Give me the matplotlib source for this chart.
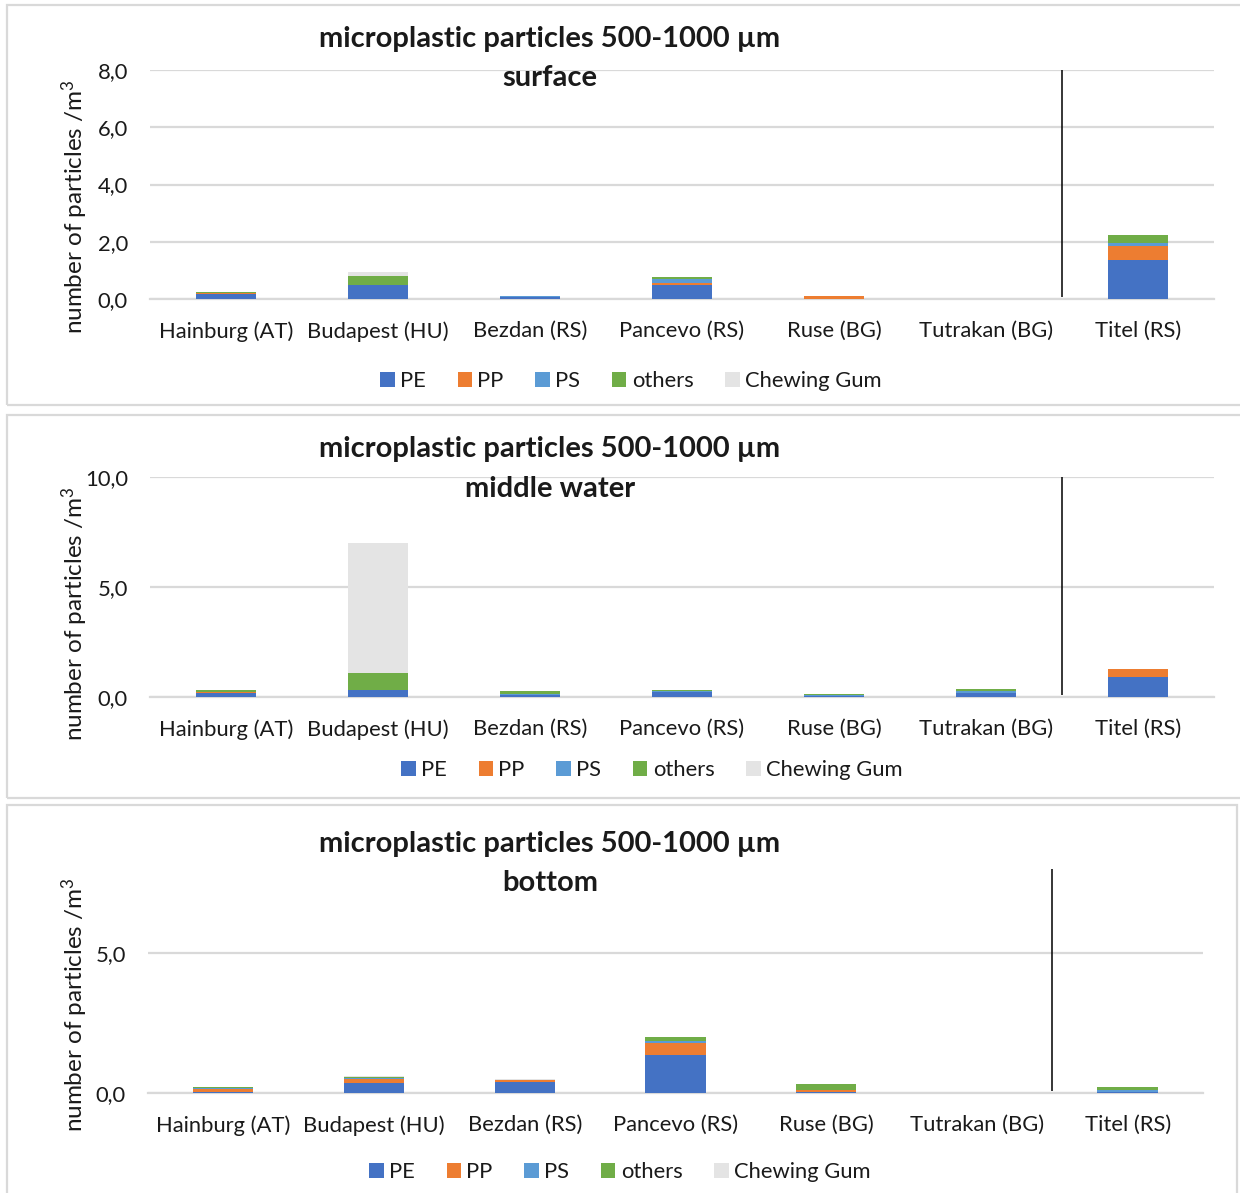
import matplotlib
matplotlib.use("Agg")
import matplotlib.pyplot as plt
from matplotlib.patches import Rectangle
import numpy as np

plt.rcParams['font.family'] = ['Lato', 'DejaVu Sans']
plt.rcParams['mathtext.fontset'] = 'custom'
plt.rcParams['mathtext.rm'] = 'Lato'
plt.rcParams['mathtext.it'] = 'Lato'

sites = ['Hainburg (AT)', 'Budapest (HU)', 'Bezdan (RS)', 'Pancevo (RS)',
         'Ruse (BG)', 'Tutrakan (BG)', 'Titel (RS)']
polymers = ['PE', 'PP', 'PS', 'others', 'Chewing Gum']
colors = ['#4472C4', '#ED7D31', '#5B9BD5', '#70AD47', '#E4E4E4']

# surface samples
surface_pe = [0.16, 0.50, 0.08, 0.50, 0.00, 0.00, 1.36]
surface_pp = [0.05, 0.00, 0.00, 0.06, 0.10, 0.00, 0.50]
surface_ps = [0.01, 0.00, 0.01, 0.13, 0.00, 0.00, 0.08]
surface_others = [0.04, 0.31, 0.00, 0.08, 0.00, 0.00, 0.31]
surface_gum = [0.00, 0.13, 0.00, 0.00, 0.00, 0.00, 0.00]

# middle water samples
middle_pe = [0.18, 0.32, 0.09, 0.21, 0.06, 0.20, 0.91]
middle_pp = [0.06, 0.00, 0.00, 0.03, 0.00, 0.00, 0.35]
middle_ps = [0.00, 0.00, 0.05, 0.03, 0.03, 0.07, 0.00]
middle_others = [0.06, 0.77, 0.12, 0.05, 0.05, 0.11, 0.00]
middle_gum = [0.00, 5.91, 0.00, 0.00, 0.00, 0.00, 0.00]

# bottom samples
bottom_pe = [0.02, 0.34, 0.38, 1.35, 0.05, 0.00, 0.02]
bottom_pp = [0.13, 0.16, 0.10, 0.45, 0.07, 0.00, 0.00]
bottom_ps = [0.02, 0.02, 0.00, 0.06, 0.00, 0.00, 0.08]
bottom_others = [0.06, 0.04, 0.00, 0.15, 0.19, 0.00, 0.10]
bottom_gum = [0.00, 0.05, 0.01, 0.00, 0.00, 0.00, 0.00]

W, H = 1240, 1193
fig = plt.figure(figsize=(W / 100, H / 100), dpi=100)

def fx(px):
    return px / W

def fy(py):
    return 1 - py / H

panels = [
    dict(series=[surface_pe, surface_pp, surface_ps, surface_others, surface_gum],
         sub='surface', box=(7, 5, 1250, 405), ax=(150, 70, 1214, 299),
         ylim=8, ticks=[0, 2, 4, 6, 8], t1=39, t2=78, leg=(631, 381), ylab=207),
    dict(series=[middle_pe, middle_pp, middle_ps, middle_others, middle_gum],
         sub='middle water', box=(7, 415, 1250, 798), ax=(150, 477, 1214, 697),
         ylim=10, ticks=[0, 5, 10], t1=449, t2=489, leg=(652, 770), ylab=614),
    dict(series=[bottom_pe, bottom_pp, bottom_ps, bottom_others, bottom_gum],
         sub='bottom', box=(7, 805, 1237, 1200), ax=(148, 869, 1203, 1093),
         ylim=8, ticks=[0, 5], t1=844, t2=883, leg=(620, 1172), ylab=1005),
]

grid_c = '#D9D9D9'
text_c = '#1A1A1A'
tick_fs = 15.8

for p in panels:
    bx0, by0, bx1, by1 = p['box']
    fig.patches.append(Rectangle((fx(bx0), fy(by1)), fx(bx1 - bx0), (by1 - by0) / H,
                                 transform=fig.transFigure, fill=False,
                                 edgecolor=grid_c, lw=1.6))
    ax0, ay0, ax1, ay1 = p['ax']
    ax = fig.add_axes([fx(ax0), fy(ay1), fx(ax1 - ax0), (ay1 - ay0) / H])
    x = np.arange(len(sites))
    bottom = np.zeros(len(sites))
    handles = []
    for vals, name, c in zip(p['series'], polymers, colors):
        vals = np.array(vals)
        h = ax.bar(x, vals, 0.4, bottom=bottom, color=c, label=name, zorder=3)
        handles.append(h)
        bottom += vals
    ax.set_xlim(-0.5, len(sites) - 0.5)
    ax.set_ylim(0, p['ylim'])
    ax.set_yticks(p['ticks'])
    ax.set_yticklabels([f"{t:.1f}".replace('.', ',') for t in p['ticks']])
    ax.set_xticks(x)
    ax.set_xticklabels(sites)
    ax.tick_params(length=0, labelsize=tick_fs, colors=text_c)
    ax.tick_params(axis='y', pad=16)
    ax.tick_params(axis='x', pad=16)
    for s in ['top', 'right', 'left']:
        ax.spines[s].set_visible(False)
    ax.spines['bottom'].set_color(grid_c)
    ax.spines['bottom'].set_linewidth(1.6)
    ax.spines['bottom'].set_zorder(2)
    ax.yaxis.grid(True, color=grid_c, lw=1.6, zorder=0)
    ax.set_axisbelow(True)
    ax.vlines(5.5, p['ylim'] * 0.01, p['ylim'], color='black', lw=1.1, zorder=4)

    fig.text(fx(550), fy(p['t1']), 'microplastic particles 500-1000 µm',
             ha='center', va='center', fontsize=21, fontweight='bold', color=text_c)
    fig.text(fx(550), fy(p['t2']), p['sub'],
             ha='center', va='center', fontsize=21, fontweight='bold', color=text_c)
    fig.text(fx(75), fy(p['ylab']), r'number of particles /m$^3$', rotation=90,
             ha='center', va='center', fontsize=17.5, color=text_c)
    lx, ly = p['leg']
    fig.legend(handles=handles, labels=polymers, loc='center',
               bbox_to_anchor=(fx(lx), fy(ly)), bbox_transform=fig.transFigure,
               ncol=5, frameon=False, fontsize=tick_fs, handlelength=0.65,
               handleheight=0.65, handletextpad=0.25, columnspacing=1.45,
               labelcolor=text_c)

fig.savefig('out.png', dpi=100, facecolor='white')
